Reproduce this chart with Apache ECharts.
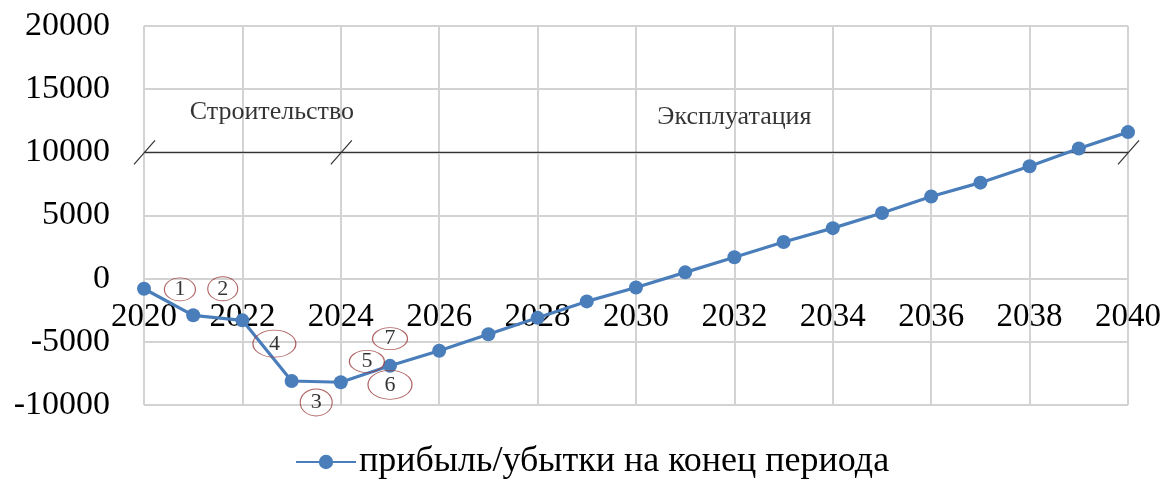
<!DOCTYPE html>
<html>
<head>
<meta charset="utf-8">
<script src="https://cdn.jsdelivr.net/npm/echarts@6/dist/echarts.min.js"></script>
<style>
  html, body { margin: 0; padding: 0; background: #fff; }
  #chart { width: 1168px; height: 479px; }
</style>
</head>
<body>
<div id="chart"></div>
<script>
// Years and cumulative profit/loss at the end of each period
const years = [2020, 2021, 2022, 2023, 2024, 2025, 2026, 2027, 2028, 2029, 2030,
               2031, 2032, 2033, 2034, 2035, 2036, 2037, 2038, 2039, 2040];
const profit = [-800, -2900, -3300, -8100, -8200, -6900, -5700, -4400, -3100, -1800, -700,
                500, 1700, 2900, 4000, 5200, 6500, 7600, 8900, 10300, 11600];
const seriesName = 'прибыль/убытки на конец периода';

// Value axis range and step
const yMin = -10000, yMax = 20000, yStep = 5000;

// Phase divider level, boundaries and phase names
const phaseLevel = 10000;
const phaseBounds = [2020, 2024, 2040];
const phaseNames = ['Строительство', 'Эксплуатация'];
const phaseNameAt = [[2022.6, 13200], [2032.0, 12750]];

// Numbered callouts (anchored in year / value units)
const calloutLabels = ['1', '2', '3', '4', '5', '6', '7'];
const calloutAt = [[2020.73, -850], [2021.6, -800], [2023.5, -9800], [2022.65, -5150],
                   [2024.53, -6550], [2025.0, -8400], [2025.0, -4750]];
const calloutSize = [[31, 23], [30, 24], [32, 27], [43, 27], [35, 22], [44, 29], [35, 22]];

const serif = 'Liberation Serif, Times New Roman, serif';
const gridColor = '#d3d3d3';
const blue = '#4a7ebb';

const gridTop = 26, gridBottom = 74, chartHeight = 479;
const gridHeight = chartHeight - gridTop - gridBottom;
// raise the category axis so it crosses the value axis at zero
const zeroOffset = -gridHeight * (0 - yMin) / (yMax - yMin);

const chart = echarts.init(document.getElementById('chart'));

const segments = [[phaseBounds[0], phaseLevel, phaseBounds[phaseBounds.length - 1], phaseLevel]];

chart.setOption({
  animation: false,
  grid: { left: 144, right: 40, top: gridTop, bottom: gridBottom, containLabel: false },
  xAxis: {
    type: 'value',
    position: 'bottom',
    offset: zeroOffset,
    min: 2020, max: 2040, interval: 2,
    axisLine: { show: true, onZero: false, lineStyle: { color: gridColor, width: 2 } },
    axisTick: { show: false },
    axisLabel: {
      color: '#000', fontFamily: serif, fontSize: 33, margin: 22,
      formatter: v => String(v)
    },
    splitLine: { show: true, lineStyle: { color: gridColor, width: 2 } }
  },
  yAxis: {
    type: 'value',
    min: yMin, max: yMax, interval: yStep,
    axisLine: { show: false, onZero: false },
    axisTick: { show: false },
    axisLabel: {
      color: '#000', fontFamily: serif, fontSize: 34, margin: 34,
      formatter: v => String(v)
    },
    splitLine: { show: true, lineStyle: { color: gridColor, width: 2 } }
  },
  legend: {
    data: [seriesName],
    left: 295,
    top: 444,
    padding: 0,
    itemWidth: 60,
    itemHeight: 18,
    itemGap: 4,
    textStyle: { color: '#000', fontFamily: serif, fontSize: 36, padding: [0, 0, 0, -2] }
  },
  series: [
    {
      // divider between construction and operation phases
      type: 'custom',
      silent: true,
      z: 3,
      data: segments,
      renderItem: function (params, api) {
        const a = api.coord([api.value(0), api.value(1)]);
        const b = api.coord([api.value(2), api.value(3)]);
        const children = [{
          type: 'line',
          shape: { x1: a[0], y1: a[1], x2: b[0], y2: b[1] },
          style: { stroke: '#333', lineWidth: 1.3 }
        }];
        phaseBounds.forEach(function (yr) {
          const p = api.coord([yr, phaseLevel]);
          children.push({
            type: 'line',
            shape: { x1: p[0] - 10, y1: p[1] + 12, x2: p[0] + 11, y2: p[1] - 12 },
            style: { stroke: '#333', lineWidth: 1.2 }
          });
        });
        return { type: 'group', children: children };
      }
    },
    {
      // phase names
      type: 'scatter',
      silent: true,
      symbolSize: 0,
      z: 4,
      data: phaseNames.map((n, i) => ({ name: n, value: phaseNameAt[i] })),
      label: {
        show: true, position: 'inside', formatter: '{b}',
        color: '#000', fontFamily: serif, fontSize: 26
      }
    },
    {
      name: seriesName,
      type: 'line',
      data: years.map((y, i) => [y, profit[i]]),
      symbol: 'circle',
      symbolSize: 14,
      z: 5,
      lineStyle: { color: blue, width: 3.2 },
      itemStyle: { color: blue }
    },
    {
      // numbered callouts
      type: 'scatter',
      silent: true,
      z: 6,
      symbol: 'circle',
      data: calloutLabels.map((t, i) => ({
        name: t, value: calloutAt[i], symbolSize: calloutSize[i]
      })),
      itemStyle: { color: 'rgba(255,255,255,0)', borderColor: '#9b3a3a', borderWidth: 1 },
      label: {
        show: true, position: 'inside', formatter: '{b}',
        color: '#000', fontFamily: serif, fontSize: 22
      }
    }
  ]
});
</script>
</body>
</html>
